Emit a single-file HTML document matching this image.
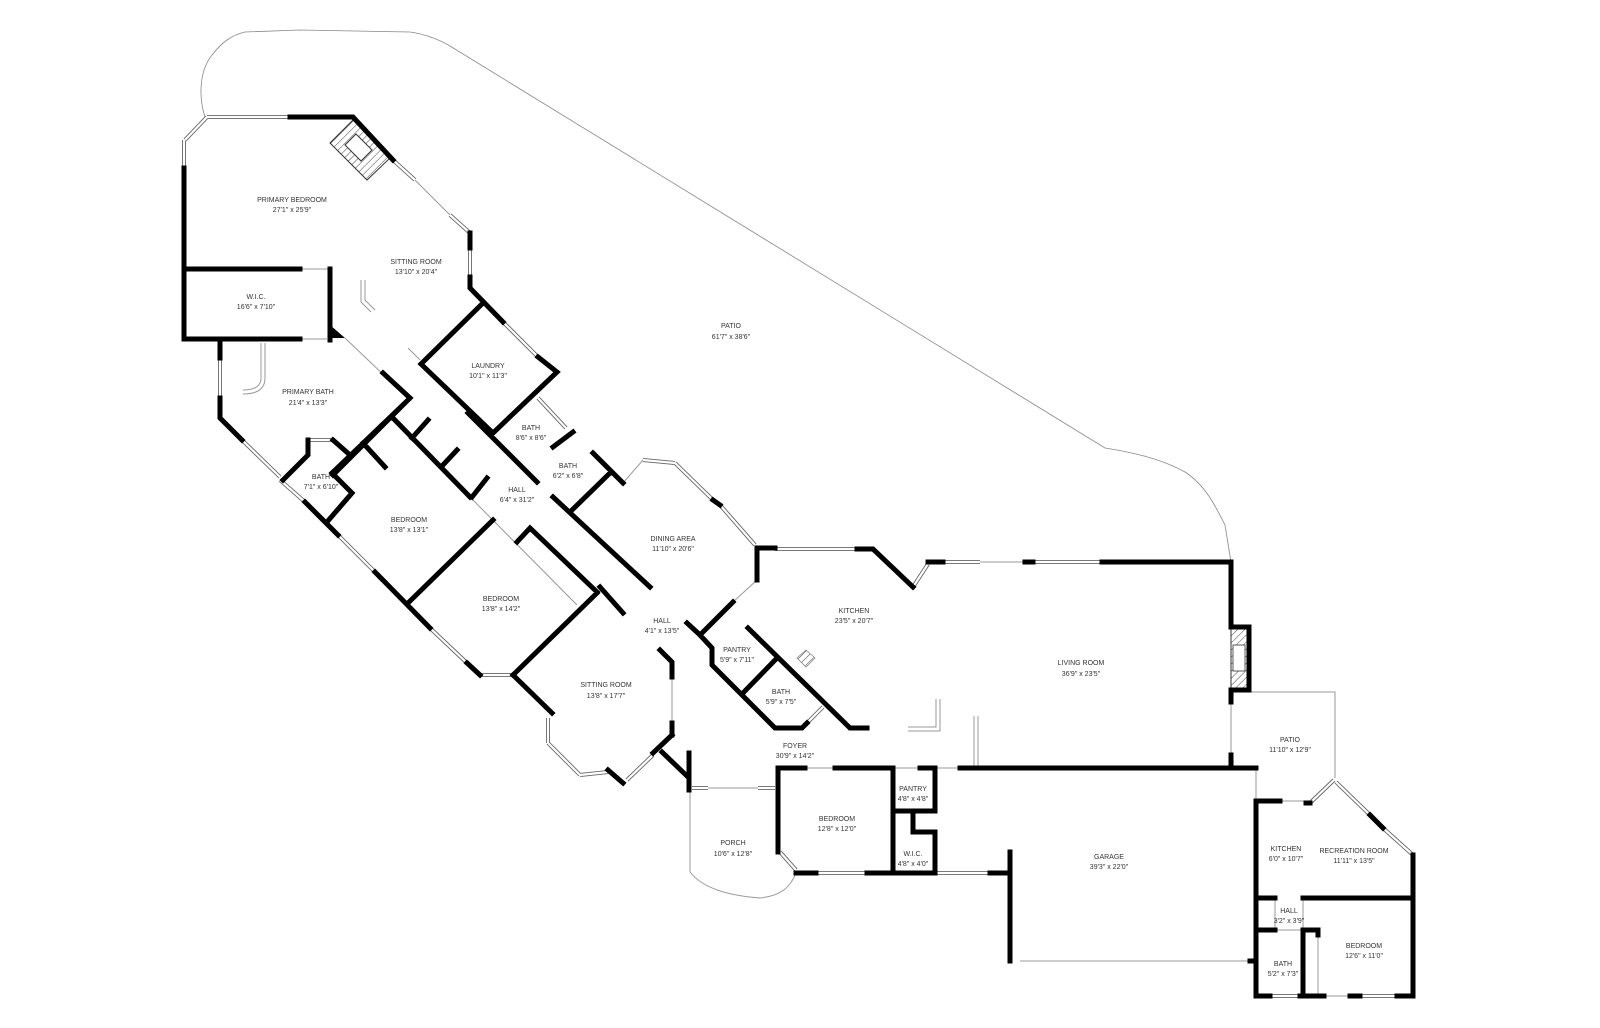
<!DOCTYPE html>
<html><head><meta charset="utf-8"><style>
html,body{margin:0;padding:0;background:#fff;}
svg{display:block}
text{font-family:"Liberation Sans",sans-serif;font-size:7px;fill:#333;text-anchor:middle}
</style></head><body>
<svg width="1600" height="1028" viewBox="0 0 1600 1028" xmlns="http://www.w3.org/2000/svg">
<defs>
<pattern id="h" width="5" height="5" patternUnits="userSpaceOnUse" patternTransform="rotate(45)">
<line x1="0" y1="0" x2="0" y2="5" stroke="#444" stroke-width="1"/></pattern>
<path id="wp" d="M207 117 L290 117 M185 140 L207 117 M184 140 L184 168 M393 160 L415 180 M450 215 L470 233 M470 248 L470 277 M503 322 L538 357 M220 358 L220 398 M242 440 L280 477 M308 440 L333 440 M280 480 L305 502 M338 535 L375 572 M430 628 L467 663 M480 675 L513 675 M548 718 L548 743 M548 743 L580 775 M580 775 L608 772 M627 780 L653 755 M538 398 L566 428 M643 460 L675 463 M675 463 L713 500 M720 505 L755 545 M775 549 L857 549 M913 587 L928 564 M943 562 L980 562 M1033 562 L1102 562 M692 788 L708 788 M758 788 L775 788 M780 852 L796 870 M816 873 L867 873 M933 873 L990 873 M1334 780 L1310 803 M1336 782 L1370 815 M1383 828 L1413 855 M1270 996 L1300 996 M1362 996 L1397 996 M807 723 L823 707"/>
</defs>
<!-- patio outline -->
<path d="M205 117 C198 95 200 70 212 55 C222 42 232 35 245 32 L300 30 L410 32 C425 34 440 40 450 46 L1105 448 C1130 452 1160 458 1185 472 C1205 485 1215 505 1225 525 L1231 562" fill="none" stroke="#888" stroke-width="0.8"/>
<!-- thin lines -->
<g fill="none" stroke="#999" stroke-width="1">
<path d="M415 180 L450 215 M980 562 L1025 562 M1231 702 L1231 755 M1249 692 L1335 692 L1335 778 M1256 768 L1256 801 M1280 801 L1308 801 M1275 898 L1275 930 M1303 898 L1303 930 M1275 930 L1303 930 M1318 935 L1318 995 M300 269 L330 269 M300 339 L327 339 M345 338 L410 400 M623 483 L643 460 M757 580 L733 602 M672 677 L672 723 M708 788 L758 788 M805 768 L835 768 M893 768 L920 768 M935 768 L960 768 M1020 961 L1250 961 M470 497 L577 605 M1324 996 L1350 996"/>
<path d="M690 790 L690 872 C700 885 720 895 760 898 C780 896 790 888 796 873"/>
<path d="M974 716 L974 767 M978 716 L978 767 M908 727 L936 727 L936 699 M908 731 L940 731 L940 699"/>
<path d="M261 343 L261 378 Q261 390 243 390 M265 343 L265 378 Q265 394 243 394"/>
<path d="M361 280 L361 302 L371 312 M365 280 L365 300 L375 310"/>
<path d="M408 348 L420 360"/>
</g>
<!-- windows -->
<use href="#wp" fill="none" stroke="#666" stroke-width="4"/>
<use href="#wp" fill="none" stroke="#fff" stroke-width="2.2"/>
<!-- fireplaces -->
<polygon points="330,143 353,120 390,158 367,180" fill="url(#h)" stroke="#333" stroke-width="1"/>
<polygon points="345,145 356,134 372,150 361,161" fill="#fff" stroke="#333" stroke-width="1"/>
<rect x="1231" y="627" width="18" height="63" fill="url(#h)" stroke="#333"/>
<rect x="1233" y="645" width="12" height="26" fill="#fff" stroke="#333" stroke-width="0.8"/>
<polygon points="806,650 815,658 806,667 797,658" fill="url(#h)" stroke="#888" stroke-width="0.8"/>
<polygon points="330,325 345,338 330,338" fill="#000"/>
<!-- thick walls -->
<g fill="none" stroke="#000" stroke-width="5" stroke-linecap="square" stroke-linejoin="miter">
<path d="M290 117 L353 117 L393 160 M184 168 L184 339 L300 339 M184 269 L300 269 M330 269 L330 340
M470 233 L470 248 M470 277 L470 288 L503 322 M538 357 L557 372 L493 433 L421 364 L483 303
M220 340 L220 358 M220 398 L220 418 L242 440
M283 480 L308 455 L308 440 M333 440 L350 455
M383 373 L410 398 L333 475 M363 443 L385 467
M392 417 L470 497 M412 438 L428 420 M443 465 L457 450 M472 497 L487 478
M305 502 L338 535 M375 572 L430 628 M467 663 L480 675 M513 675 L552 713
M608 770 L623 783 M653 753 L672 735 M662 752 L688 777 M689 753 L689 790
M660 650 L672 662 L672 677 M672 723 L672 735
M493 520 L408 603 M597 593 L513 675 M517 542 L530 528 L597 592 M600 587 L623 613
M332 473 L408 400 M332 473 L352 493 L327 522
M468 413 L537 482 M553 497 L650 587 M687 623 L700 635 L733 602
M570 512 L610 473 M593 453 L623 483 M553 447 L573 432
M713 500 L720 505 M757 548 L775 548 M757 548 L757 580
M857 549 L873 549 L913 587 M928 562 L943 562 M1025 562 L1033 562 M1102 562 L1231 562 L1231 627 L1249 627 L1249 690 L1231 690 L1231 702 M1231 755 L1231 768 L1256 768
M700 635 L712 648 L712 665 L775 728 L802 728 L807 723
M748 628 L850 728 L867 728 M777 658 L743 693
M778 768 L778 852 M778 768 L805 768 M835 768 L893 768 M920 768 L935 768 M960 768 L1256 768
M893 768 L893 873 M935 768 L935 811 L893 811 M913 811 L913 832 L935 832 L935 873
M796 873 L816 873 M867 873 L933 873 M990 873 L1010 873 M1010 852 L1010 961
M1256 801 L1256 996 L1270 996 M1300 996 L1324 996 M1350 996 L1360 996 M1397 996 L1413 996 L1413 855
M1256 801 L1280 801 M1306 803 L1310 803 M1370 815 L1383 828
M1256 898 L1275 898 M1303 898 L1413 898 M1256 930 L1275 930 M1303 930 L1318 930 M1303 930 L1303 996 M1318 930 L1318 935 M1250 961 L1256 961"/>
</g>
<!-- labels -->
<text x="292" y="202">PRIMARY BEDROOM</text><text x="292" y="212">27'1" x 25'9"</text>
<text x="416" y="264">SITTING ROOM</text><text x="416" y="274">13'10" x 20'4"</text>
<text x="256" y="299">W.I.C.</text><text x="256" y="309">16'6" x 7'10"</text>
<text x="308" y="394">PRIMARY BATH</text><text x="308" y="405">21'4" x 13'3"</text>
<text x="488" y="368">LAUNDRY</text><text x="488" y="378">10'1" x 11'3"</text>
<text x="531" y="430">BATH</text><text x="531" y="440">8'6" x 8'6"</text>
<text x="568" y="468">BATH</text><text x="568" y="478">6'2" x 6'8"</text>
<text x="321" y="479">BATH</text><text x="321" y="489">7'1" x 6'10"</text>
<text x="517" y="492">HALL</text><text x="517" y="502">6'4" x 31'2"</text>
<text x="409" y="522">BEDROOM</text><text x="409" y="532">13'8" x 13'1"</text>
<text x="501" y="601">BEDROOM</text><text x="501" y="611">13'8" x 14'2"</text>
<text x="673" y="541">DINING AREA</text><text x="673" y="551">11'10" x 20'6"</text>
<text x="662" y="623">HALL</text><text x="662" y="633">4'1" x 13'5"</text>
<text x="854" y="613">KITCHEN</text><text x="854" y="623">23'5" x 20'7"</text>
<text x="737" y="652">PANTRY</text><text x="737" y="662">5'9" x 7'11"</text>
<text x="781" y="694">BATH</text><text x="781" y="704">5'9" x 7'5"</text>
<text x="606" y="687">SITTING ROOM</text><text x="606" y="698">13'8" x 17'7"</text>
<text x="1081" y="665">LIVING ROOM</text><text x="1081" y="676">36'9" x 23'5"</text>
<text x="731" y="328">PATIO</text><text x="731" y="339">61'7" x 38'6"</text>
<text x="795" y="748">FOYER</text><text x="795" y="758">30'9" x 14'2"</text>
<text x="913" y="791">PANTRY</text><text x="913" y="801">4'8" x 4'8"</text>
<text x="837" y="821">BEDROOM</text><text x="837" y="831">12'8" x 12'0"</text>
<text x="733" y="845">PORCH</text><text x="733" y="856">10'6" x 12'8"</text>
<text x="913" y="856">W.I.C.</text><text x="913" y="866">4'8" x 4'0"</text>
<text x="1109" y="859">GARAGE</text><text x="1109" y="869">39'3" x 22'0"</text>
<text x="1290" y="742">PATIO</text><text x="1290" y="752">11'10" x 12'9"</text>
<text x="1286" y="851">KITCHEN</text><text x="1286" y="861">6'0" x 10'7"</text>
<text x="1354" y="853">RECREATION ROOM</text><text x="1354" y="863">11'11" x 13'5"</text>
<text x="1289" y="913">HALL</text><text x="1289" y="923">3'2" x 3'9"</text>
<text x="1364" y="948">BEDROOM</text><text x="1364" y="958">12'6" x 11'0"</text>
<text x="1283" y="966">BATH</text><text x="1283" y="976">5'2" x 7'3"</text>
</svg>
</body></html>
